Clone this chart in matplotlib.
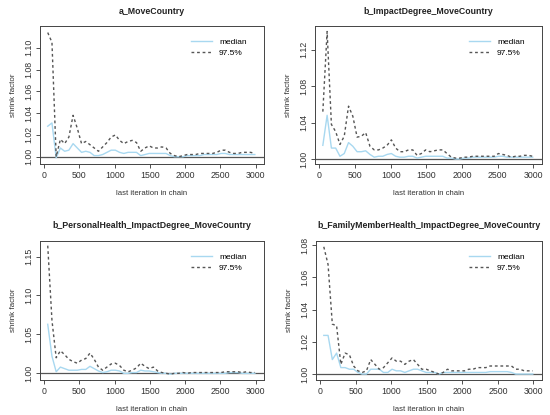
import matplotlib
matplotlib.use('Agg')
import matplotlib.pyplot as plt
from matplotlib.ticker import FormatStrFormatter

plt.rcParams['font.family'] = ['Liberation Sans', 'DejaVu Sans']

#iterations at which shrink factor was evaluated
iters = [50, 110, 170, 230, 290, 350, 410, 470, 530, 590, 650, 710, 770, 830, 890,
         950, 1010, 1070, 1130, 1190, 1250, 1310, 1370, 1430, 1490, 1550, 1610, 1670,
         1730, 1790, 1850, 1910, 1970, 2030, 2090, 2150, 2210, 2270, 2330, 2390, 2450,
         2510, 2570, 2630, 2690, 2750, 2810, 2870, 2930, 2990]

titles = ['a_MoveCountry', 'b_ImpactDegree_MoveCountry',
          'b_PersonalHealth_ImpactDegree_MoveCountry',
          'b_FamilyMemberHealth_ImpactDegree_MoveCountry']

#panel 1
a_med = [1.028, 1.031, 0.999, 1.008, 1.005, 1.006, 1.012, 1.008, 1.004, 1.005, 1.004, 1.001,
         1.001, 1.002, 1.004, 1.006, 1.006, 1.004, 1.003, 1.004, 1.004, 1.004, 1.001, 1.002,
         1.003, 1.003, 1.003, 1.003, 1.003, 1.001, 1.000, 1.000, 1.000, 1.001, 1.001, 1.001,
         1.001, 1.002, 1.002, 1.002, 1.002, 1.003, 1.003, 1.002, 1.002, 1.002, 1.002, 1.002,
         1.002, 1.002]
a_q975 = [1.114, 1.105, 1.000, 1.016, 1.012, 1.018, 1.038, 1.026, 1.012, 1.014, 1.011, 1.008,
          1.005, 1.009, 1.013, 1.018, 1.020, 1.015, 1.012, 1.014, 1.015, 1.013, 1.005, 1.008,
          1.010, 1.008, 1.008, 1.009, 1.008, 1.003, 1.001, 1.000, 1.001, 1.002, 1.002, 1.002,
          1.003, 1.003, 1.003, 1.003, 1.004, 1.006, 1.006, 1.004, 1.003, 1.003, 1.004, 1.004,
          1.004, 1.003]

#panel 2
b_med = [1.015, 1.048, 1.012, 1.012, 1.003, 1.006, 1.018, 1.014, 1.008, 1.008, 1.009, 1.005,
         1.002, 1.003, 1.003, 1.005, 1.006, 1.003, 1.002, 1.002, 1.003, 1.003, 1.001, 1.002,
         1.003, 1.003, 1.003, 1.003, 1.003, 1.001, 1.001, 1.000, 1.000, 1.001, 1.001, 1.002,
         1.002, 1.002, 1.002, 1.002, 1.002, 1.003, 1.003, 1.002, 1.002, 1.002, 1.002, 1.002,
         1.002, 1.002]
b_q975 = [1.052, 1.140, 1.038, 1.030, 1.016, 1.025, 1.058, 1.047, 1.024, 1.025, 1.029, 1.014,
          1.010, 1.010, 1.012, 1.015, 1.021, 1.012, 1.008, 1.008, 1.010, 1.010, 1.004, 1.006,
          1.010, 1.008, 1.009, 1.010, 1.010, 1.006, 1.002, 1.001, 1.001, 1.002, 1.002, 1.003,
          1.003, 1.003, 1.003, 1.003, 1.003, 1.006, 1.005, 1.004, 1.002, 1.003, 1.003, 1.004,
          1.004, 1.003]

#panel 3
c_med = [1.063, 1.022, 1.002, 1.008, 1.006, 1.004, 1.004, 1.004, 1.005, 1.005, 1.009, 1.006,
         1.003, 1.001, 1.002, 1.004, 1.004, 1.003, 1.000, 1.000, 1.001, 1.001, 1.004, 1.003,
         1.003, 1.002, 1.001, 1.000, 1.000, 0.999, 1.000, 1.000, 1.000, 1.000, 1.000, 1.000,
         1.000, 1.000, 1.000, 1.000, 1.000, 1.000, 1.000, 1.001, 1.001, 1.001, 1.000, 1.000,
         1.000, 1.000]
c_q975 = [1.164, 1.068, 1.020, 1.029, 1.024, 1.018, 1.015, 1.013, 1.017, 1.019, 1.026, 1.018,
          1.008, 1.004, 1.008, 1.012, 1.013, 1.010, 1.004, 1.002, 1.004, 1.007, 1.013, 1.009,
          1.006, 1.008, 1.003, 1.001, 1.000, 0.999, 1.000, 1.000, 1.001, 1.000, 1.001, 1.001,
          1.001, 1.001, 1.001, 1.001, 1.001, 1.001, 1.002, 1.002, 1.002, 1.002, 1.001, 1.002,
          1.001, 1.001]

#panel 4
d_med = [1.024, 1.024, 1.009, 1.013, 1.004, 1.004, 1.003, 1.003, 1.001, 1.000, 1.000, 1.003,
         1.003, 1.003, 1.001, 1.001, 1.003, 1.002, 1.002, 1.001, 1.002, 1.003, 1.003, 1.002,
         1.001, 1.001, 1.001, 1.000, 1.001, 1.001, 1.001, 1.001, 1.001, 1.001, 1.001, 1.001,
         1.001, 1.001, 1.001, 1.0015, 1.0015, 1.0015, 1.0015, 1.0015, 1.001, 1.000, 1.000,
         1.000, 1.000, 1.000]
d_q975 = [1.079, 1.068, 1.031, 1.030, 1.006, 1.013, 1.012, 1.005, 1.002, 1.001, 1.002, 1.009,
          1.006, 1.003, 1.004, 1.007, 1.010, 1.008, 1.008, 1.006, 1.008, 1.009, 1.006, 1.003,
          1.003, 1.002, 1.001, 1.000, 1.001, 1.003, 1.002, 1.002, 1.002, 1.002, 1.003, 1.003,
          1.004, 1.004, 1.004, 1.005, 1.005, 1.005, 1.005, 1.005, 1.005, 1.003, 1.003, 1.002,
          1.002, 1.002]

medians = [a_med, b_med, c_med, d_med]
uppers = [a_q975, b_q975, c_q975, d_q975]
ylims = [(0.9933, 1.120), (0.9945, 1.146), (0.9914, 1.170), (0.9963, 1.0826)]
yticks = [[1.00, 1.02, 1.04, 1.06, 1.08, 1.10], [1.00, 1.04, 1.08, 1.12],
          [1.00, 1.05, 1.10, 1.15], [1.00, 1.02, 1.04, 1.06, 1.08]]

#axes boxes in figure fractions (left, bottom, width, height)
boxes = [(0.0727, 0.6048, 0.4073, 0.3325), (0.5727, 0.6048, 0.4127, 0.3325),
         (0.0727, 0.0843, 0.4073, 0.3350), (0.5745, 0.0843, 0.4110, 0.3350)]

fig = plt.figure(figsize=(5.5, 4.15), dpi=100)

for i in range(4):
    ax = fig.add_axes(boxes[i])
    ax.plot(iters, medians[i], color='#a8d8f0', lw=1.0, label='median')
    ax.plot(iters, uppers[i], color='#555555', lw=1.0, dashes=(2, 2), label='97.5%')
    ax.axhline(1.0, color='#555555', lw=0.9, zorder=0)

    ax.set_xlim(-60, 3120)
    ax.set_ylim(*ylims[i])
    ax.set_xticks([0, 500, 1000, 1500, 2000, 2500, 3000])
    ax.set_yticks(yticks[i])
    ax.yaxis.set_major_formatter(FormatStrFormatter('%.2f'))
    ax.tick_params(labelsize=6.3, length=3, width=0.6, color='#333333', labelcolor='#333333', pad=2)
    for lab in ax.get_yticklabels():
        lab.set_rotation(90)
        lab.set_va('center')
    for s in ax.spines.values():
        s.set_linewidth(0.7)
        s.set_color('#444444')

    ax.set_title(titles[i], fontsize=6.3, fontweight='bold', pad=9, color='#222222')
    ax.set_xlabel('last iteration in chain', fontsize=5.6, labelpad=7, color='#333333')
    ax.set_ylabel('shrink factor', fontsize=5.8, labelpad=5, color='#333333')

    ax.legend(loc='upper right', frameon=False, fontsize=6, handlelength=2.6,
              borderaxespad=0.6, labelspacing=0.3, bbox_to_anchor=(0.96, 0.97))

plt.savefig('out.png', dpi=100)
